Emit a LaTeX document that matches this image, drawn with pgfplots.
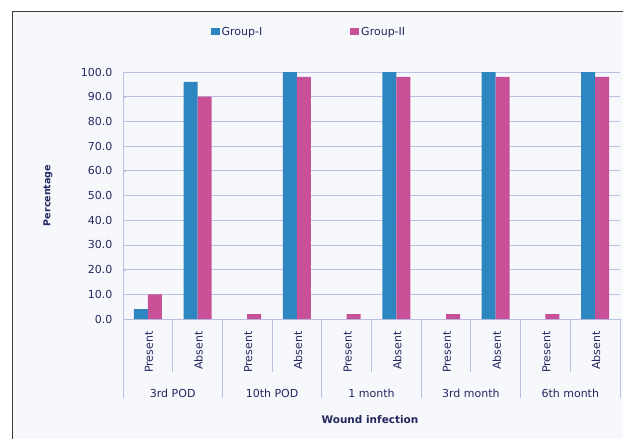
\documentclass[border=0pt]{standalone}
\usepackage{fontspec}
\setmainfont{DejaVu Sans}
\usepackage{pgfplots}
\pgfplotsset{compat=1.18}
\definecolor{bgc}{RGB}{246,248,252}
\definecolor{gridc}{RGB}{185,192,228}
\definecolor{txtc}{RGB}{36,40,96}
\definecolor{barblue}{RGB}{46,134,193}
\definecolor{barpink}{RGB}{200,80,150}
\definecolor{framec}{RGB}{60,60,60}
\begin{document}
\begin{tikzpicture}
\useasboundingbox (-123bp,-120bp) rectangle (500bp,319bp);
\fill[white] (-123bp,-120bp) rectangle (510bp,319bp);
\fill[bgc] (-110bp,-125bp) rectangle (510bp,307bp);
\draw[framec, line width=1bp] (-110bp,-125bp) -- (-110bp,307bp) -- (510bp,307bp);
\begin{axis}[
  at={(0,0)}, anchor=south west,
  scale only axis, width=497bp, height=247bp,
  ybar=0pt, bar width=14bp,
  xmin=-0.5, xmax=9.5, ymin=0, ymax=100,
  ytick distance=10,
  xtick={0,...,9},
  xticklabels={Present,Absent,Present,Absent,Present,Absent,Present,Absent,Present,Absent},
  x tick label style={rotate=90, anchor=east, xshift=-6bp, yshift=-1bp, font=\fontsize{11bp}{12bp}\selectfont, text=txtc},
  y tick label style={xshift=-7bp, font=\fontsize{11bp}{12bp}\selectfont, text=txtc},
  /pgf/number format/assume math mode=true,
  yticklabel={\pgfmathprintnumber[fixed, fixed zerofill, precision=1]{\tick}},
  major x tick style={draw=none},
  ytick pos=left,
  major tick length=3bp,
  tick style={gridc},
  ymajorgrids, grid style={gridc, line width=0.8bp},
  axis x line*=bottom, axis y line*=left,
  axis line style={gridc, line width=0.8bp, -},
  clip=false,
  ylabel={Percentage},
  ylabel style={at={(axis description cs:-0.151,0.5)}, anchor=center, font=\bfseries\fontsize{9.5bp}{11bp}\selectfont, text=txtc},
  xlabel={Wound infection},
  xlabel style={at={(axis description cs:0.497,-0.409)}, anchor=center, font=\bfseries\fontsize{10.5bp}{12bp}\selectfont, text=txtc},
  legend style={at={(axis description cs:0.374,1.162)}, anchor=center, draw=none, fill=none, legend columns=2, /tikz/every even column/.append style={column sep=86bp}, font=\fontsize{11bp}{12bp}\selectfont, text=txtc},
  legend image code/.code={\fill[#1] (0bp,-3.5bp) rectangle (9bp,3.5bp);},
]
\addplot[fill=barblue, draw=none] coordinates {(0,4) (1,96) (3,100) (5,100) (7,100) (9,100)};
\addplot[fill=barpink, draw=none] coordinates {(0,10) (1,90) (2,2) (3,98) (4,2) (5,98) (6,2) (7,98) (8,2) (9,98)};
\legend{Group-I, Group-II}
\draw[gridc, line width=0.8bp] (axis cs:-0.5,0) -- ([yshift=-79bp]axis cs:-0.5,0);
\draw[gridc, line width=0.8bp] (axis cs:0.5,0) -- ([yshift=-53bp]axis cs:0.5,0);
\draw[gridc, line width=0.8bp] (axis cs:1.5,0) -- ([yshift=-79bp]axis cs:1.5,0);
\draw[gridc, line width=0.8bp] (axis cs:2.5,0) -- ([yshift=-53bp]axis cs:2.5,0);
\draw[gridc, line width=0.8bp] (axis cs:3.5,0) -- ([yshift=-79bp]axis cs:3.5,0);
\draw[gridc, line width=0.8bp] (axis cs:4.5,0) -- ([yshift=-53bp]axis cs:4.5,0);
\draw[gridc, line width=0.8bp] (axis cs:5.5,0) -- ([yshift=-79bp]axis cs:5.5,0);
\draw[gridc, line width=0.8bp] (axis cs:6.5,0) -- ([yshift=-53bp]axis cs:6.5,0);
\draw[gridc, line width=0.8bp] (axis cs:7.5,0) -- ([yshift=-79bp]axis cs:7.5,0);
\draw[gridc, line width=0.8bp] (axis cs:8.5,0) -- ([yshift=-53bp]axis cs:8.5,0);
\draw[gridc, line width=0.8bp] (axis cs:9.5,0) -- ([yshift=-79bp]axis cs:9.5,0);
\node[text=txtc, font=\fontsize{11bp}{12bp}\selectfont] at ([yshift=-74bp]axis cs:0.5,0) {3rd POD};
\node[text=txtc, font=\fontsize{11bp}{12bp}\selectfont] at ([yshift=-74bp]axis cs:2.5,0) {10th POD};
\node[text=txtc, font=\fontsize{11bp}{12bp}\selectfont] at ([yshift=-74bp]axis cs:4.5,0) {1 month};
\node[text=txtc, font=\fontsize{11bp}{12bp}\selectfont] at ([yshift=-74bp]axis cs:6.5,0) {3rd month};
\node[text=txtc, font=\fontsize{11bp}{12bp}\selectfont] at ([yshift=-74bp]axis cs:8.5,0) {6th month};
\end{axis}
\end{tikzpicture}
\end{document}
